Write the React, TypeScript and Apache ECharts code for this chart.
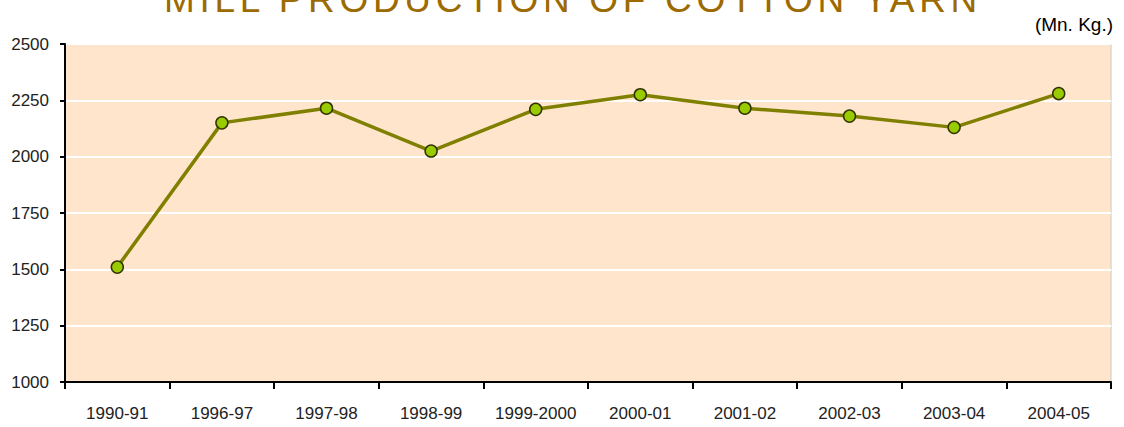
import React, { useEffect, useRef } from "react";
import * as echarts from "echarts";

const categories = ["1990-91", "1996-97", "1997-98", "1998-99", "1999-2000", "2000-01", "2001-02", "2002-03", "2003-04", "2004-05"];
const production = [1510, 2150, 2215, 2025, 2210, 2275, 2215, 2180, 2130, 2280];
const titleText = "MILL PRODUCTION OF COTTON YARN";
const unitText = "(Mn. Kg.)";

const labelFont = "'Liberation Sans', Arial, sans-serif";
const regular = "'Liberation Sans', Arial, sans-serif";

export default function App() {
  const ref = useRef<HTMLDivElement>(null);
  useEffect(() => {
    if (!ref.current) return;
    const chart = echarts.init(ref.current, null, { renderer: "svg" });
    chart.setOption({
      animation: false,
      backgroundColor: "#ffffff",
      grid: { left: 65, right: 13, top: 44, bottom: 45, show: true, backgroundColor: "#fee5cc", borderWidth: 0 },
      graphic: [
        {
          type: "text",
          x: 573,
          y: -1,
          style: { text: titleText, fill: "#9c6a00", font: `37px ${regular}`, textAlign: "center", textVerticalAlign: "middle" },
        },
        {
          type: "text",
          x: 1113,
          y: 24,
          style: { text: unitText, fill: "#000000", font: `19px ${regular}`, textAlign: "right", textVerticalAlign: "middle" },
        },
        {
          type: "line",
          shape: { x1: 1111, y1: 44, x2: 1111, y2: 382 },
          style: { stroke: "#c8c8c8", lineWidth: 1 },
        },
      ],
      xAxis: {
        type: "category",
        data: categories,
        boundaryGap: true,
        axisLine: { lineStyle: { color: "#000", width: 2 } },
        axisTick: { show: true, length: 7, lineStyle: { color: "#000", width: 2 } },
        axisLabel: { color: "#222", fontFamily: labelFont, fontSize: 17, margin: 23, interval: 0 },
        splitLine: { show: false },
      },
      yAxis: {
        type: "value",
        min: 1000,
        max: 2500,
        interval: 250,
        axisLine: { show: true, lineStyle: { color: "#000", width: 2 } },
        axisTick: { show: true, length: 5, lineStyle: { color: "#000", width: 2 } },
        axisLabel: { color: "#222", fontFamily: labelFont, fontSize: 17, margin: 16, formatter: (v: number) => String(v) },
        splitLine: { show: true, lineStyle: { color: "#ffffff", width: 2 } },
      },
      series: [
        {
          type: "line",
          data: production,
          symbol: "circle",
          symbolSize: 12,
          lineStyle: { color: "#808000", width: 3.5 },
          itemStyle: { color: "#99cc00", borderColor: "#333300", borderWidth: 1.5 },
        },
      ],
    });
    const texts = ref.current.querySelectorAll("text");
    texts.forEach((t) => {
      if ((t.textContent || "").startsWith("MILL")) {
        (t as SVGTextElement).style.letterSpacing = "4.7px";
      }
    });
    return () => chart.dispose();
  }, []);
  return <div ref={ref} style={{ position: "fixed", left: 0, top: 0, width: 1124, height: 427 }} />;
}
